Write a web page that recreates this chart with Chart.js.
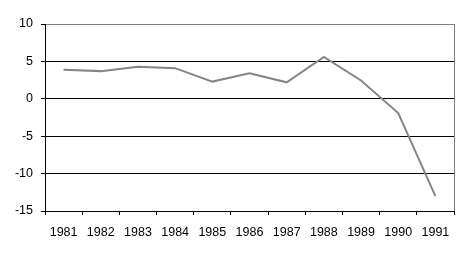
<!DOCTYPE html>
<html>
<head>
<meta charset="utf-8">
<script src="https://cdn.jsdelivr.net/npm/chart.js@4/dist/chart.umd.min.js"></script>
<style>
  html, body { margin: 0; padding: 0; background: #fff; }
  #wrap { width: 468px; height: 256px; }
</style>
</head>
<body>
<div id="wrap"><canvas id="myChart" width="468" height="256"></canvas></div>
<script>
var years = ["1981", "1982", "1983", "1984", "1985", "1986", "1987", "1988", "1989", "1990", "1991"];
var valores = [3.9, 3.7, 4.3, 4.1, 2.3, 3.4, 2.2, 5.6, 2.45, -1.9, -13.0];
var yMin = -15;
var yMax = 10;
var yStep = 5;

// grey frame on the right side of the plot area
var marcoDerecho = {
    id: 'marcoDerecho',
    beforeDatasetsDraw: function (chart) {
        var a = chart.chartArea;
        var c = chart.ctx;
        c.save();
        c.strokeStyle = '#808080';
        c.lineWidth = 1;
        c.beginPath();
        c.moveTo(Math.round(a.right) + 0.5, a.top);
        c.lineTo(Math.round(a.right) + 0.5, a.bottom);
        c.stroke();
        c.restore();
    }
};

var ctx = document.getElementById('myChart').getContext('2d');
var chart = new Chart(ctx, {
    type: 'line',
    data: {
        labels: years,
        datasets: [{
            data: valores,
            borderColor: '#858585',
            borderWidth: 2,
            pointRadius: 0,
            tension: 0,
            fill: false
        }]
    },
    options: {
        responsive: false,
        animation: false,
        layout: { padding: { left: 0, top: 24, right: 14, bottom: 0 } },
        plugins: { legend: { display: false }, tooltip: { enabled: false } },
        scales: {
            x: {
                offset: true,
                grid: {
                    offset: true,
                    drawOnChartArea: false,
                    drawTicks: true,
                    tickLength: 4,
                    tickColor: '#000'
                },
                border: { color: '#000', width: 1 },
                ticks: {
                    color: '#000',
                    font: { family: 'Liberation Sans, Arial', size: 12.5 },
                    padding: 10,
                    maxRotation: 0,
                    autoSkip: false
                },
                afterFit: function (s) { s.height = 45; }
            },
            y: {
                min: yMin,
                max: yMax,
                grid: {
                    color: function (c) { return c.tick && c.tick.value === yMax ? '#808080' : '#000'; },
                    tickColor: '#000',
                    tickLength: 4
                },
                border: { color: '#000', width: 1 },
                ticks: {
                    stepSize: yStep,
                    color: '#000',
                    font: { family: 'Liberation Sans, Arial', size: 12.5 },
                    padding: 8
                },
                afterFit: function (s) { s.width = 45; }
            }
        }
    },
    plugins: [marcoDerecho]
});
</script>
</body>
</html>
